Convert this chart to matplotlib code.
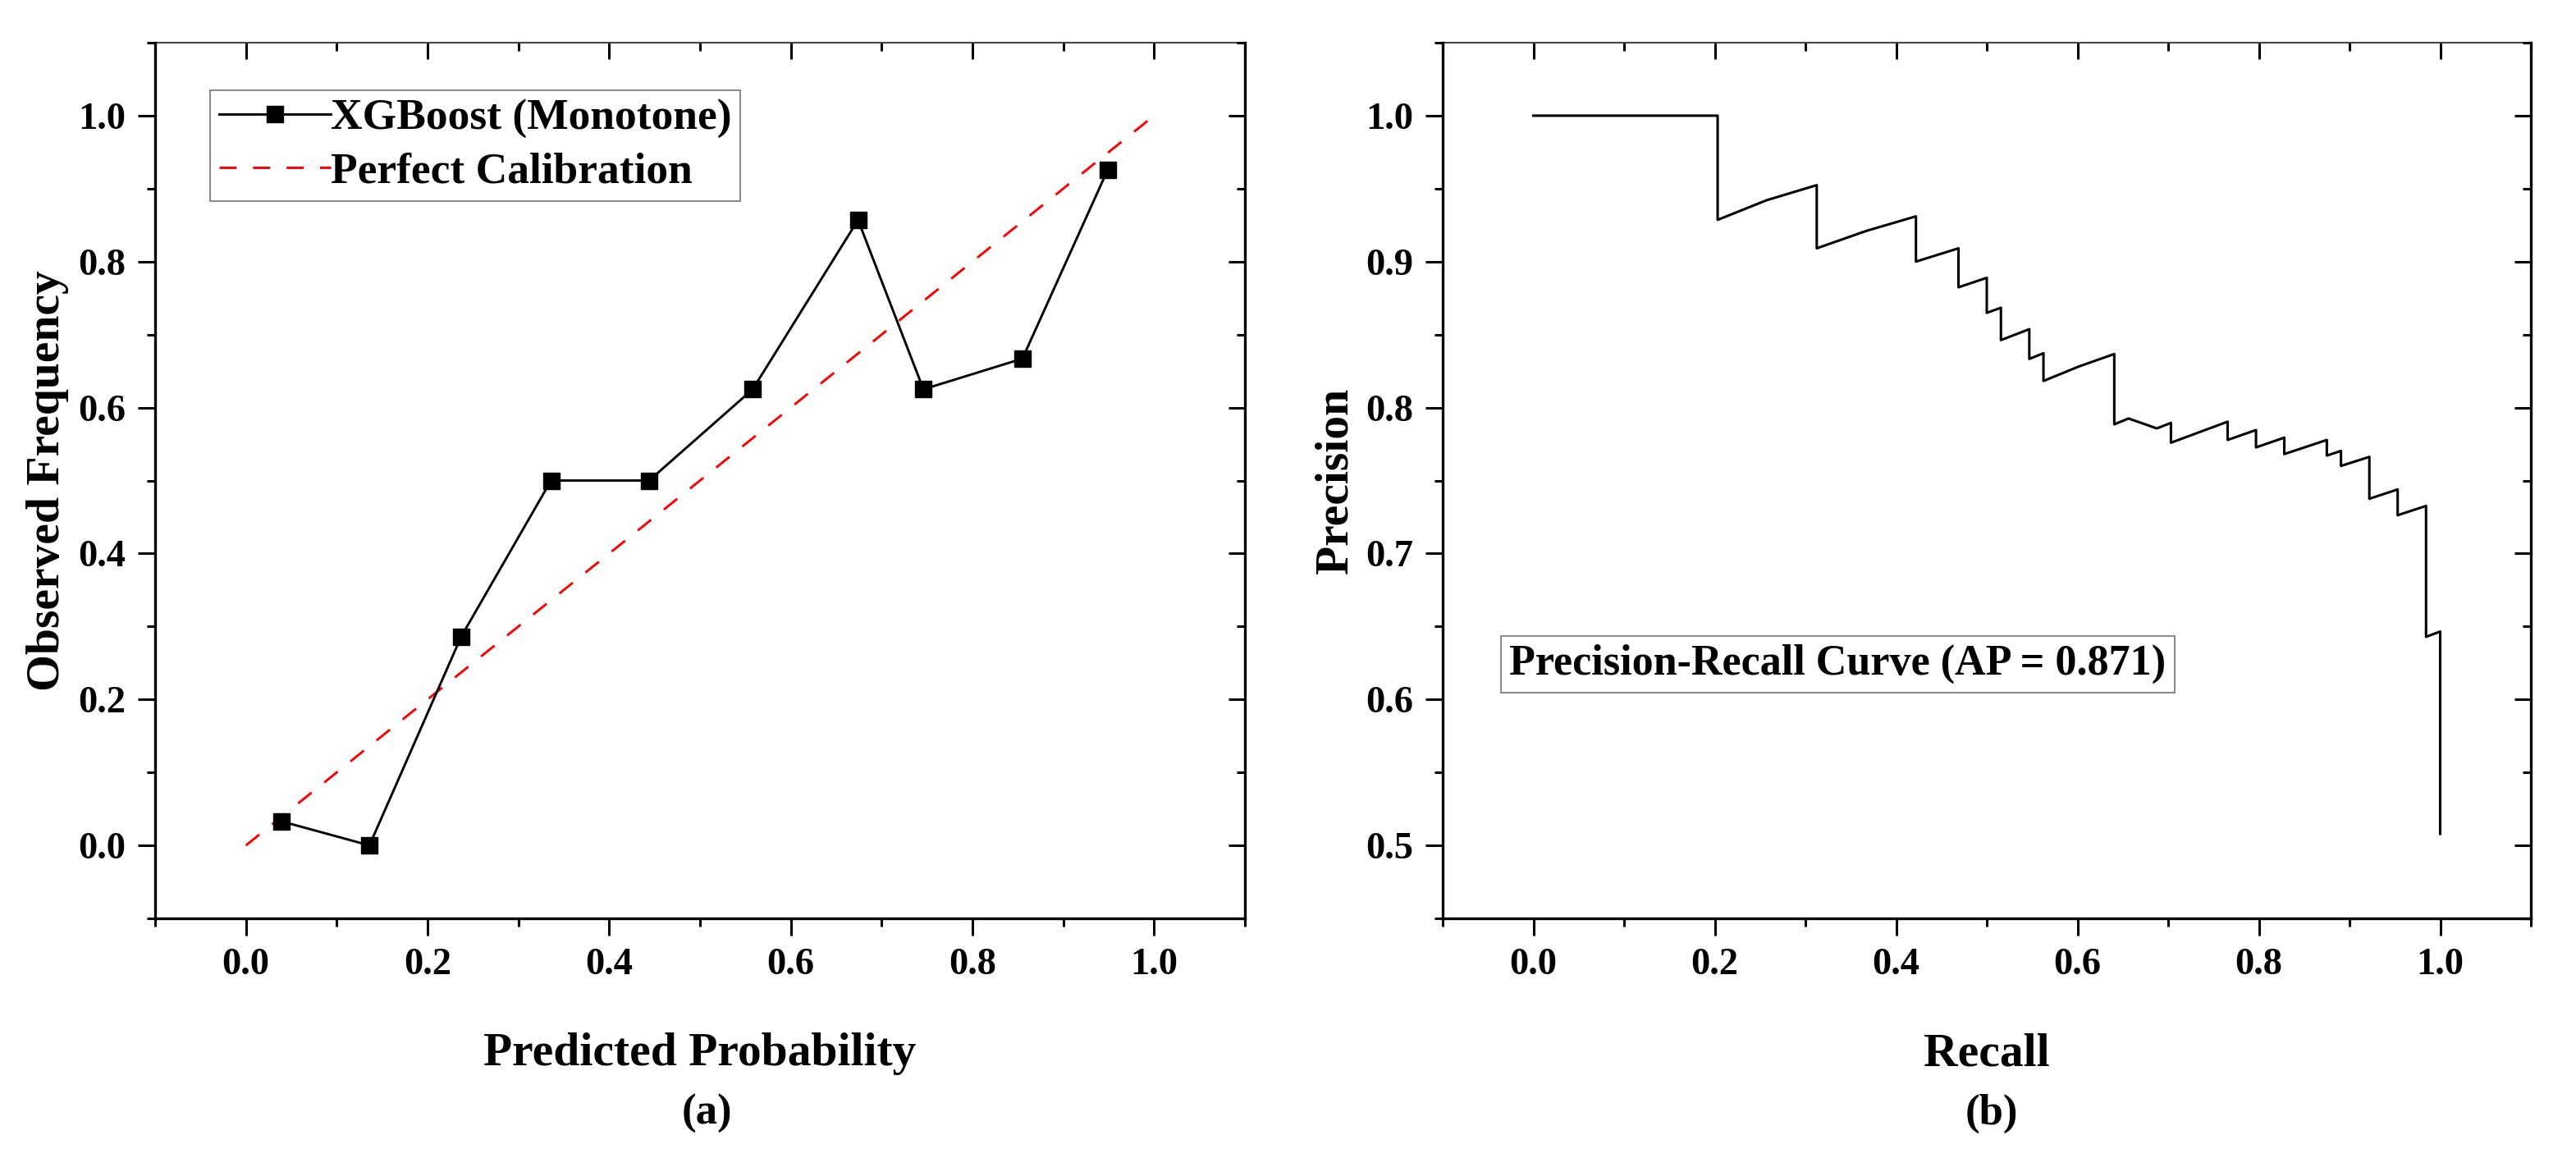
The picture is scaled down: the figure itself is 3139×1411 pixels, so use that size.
import matplotlib
matplotlib.use("Agg")
import matplotlib.pyplot as plt
from matplotlib.ticker import MultipleLocator, FormatStrFormatter

# ---- panel (a): calibration curve ----
pred_prob = [0.039, 0.136, 0.237, 0.336, 0.444, 0.558, 0.674, 0.746, 0.855, 0.949]
obs_freq = [0.033, 0.000, 0.286, 0.500, 0.500, 0.625, 0.857, 0.625, 0.667, 0.926]
perfect_x = [0.0, 1.0]
perfect_y = [0.0, 1.0]

# ---- panel (b): precision-recall curve, vertices ----
recall = [0.0, 0.2032, 0.2032, 0.257, 0.3125, 0.3125, 0.367, 0.4219, 0.4219,
          0.4688, 0.4688, 0.500, 0.500, 0.5156, 0.5156, 0.5469, 0.5469,
          0.5625, 0.5625, 0.601, 0.6406, 0.6406, 0.6563, 0.6875, 0.7031,
          0.7031, 0.7656, 0.7656, 0.7969, 0.7969, 0.8281, 0.8281, 0.875,
          0.875, 0.8906, 0.8906, 0.9219, 0.9219, 0.9531, 0.9531, 0.9844,
          0.9844, 1.0, 1.0]
precision = [1.0, 1.0, 0.9286, 0.942, 0.9524, 0.9091, 0.921, 0.931, 0.900,
             0.9091, 0.8824, 0.8889, 0.8649, 0.8684, 0.8462, 0.8537, 0.8333,
             0.8372, 0.8182, 0.828, 0.8367, 0.7885, 0.7925, 0.7857, 0.7895,
             0.7759, 0.7903, 0.7778, 0.7846, 0.7727, 0.7794, 0.7681, 0.7778,
             0.7671, 0.7703, 0.760, 0.7662, 0.7375, 0.7439, 0.7262, 0.7326,
             0.6429, 0.6465, 0.5079]
ap_value = 0.871

plt.rcParams["font.family"] = ["Liberation Serif", "DejaVu Serif"]
plt.rcParams["font.weight"] = "bold"
plt.rcParams["axes.labelweight"] = "bold"

W, H = 3139, 1411
fig = plt.figure(figsize=(W / 100, H / 100), dpi=100)

# axes boxes in pixels (left, bottom edge from top, width, height)
ax_a = fig.add_axes([189 / W, 1 - 1119 / H, 1328 / W, 1067 / H])
ax_b = fig.add_axes([1758 / W, 1 - 1119 / H, 1326 / W, 1067 / H])

TICK_FS = 33.5
LABEL_FS = 41.5


def style_axes(ax, xmaj, xmin, ymaj, ymin):
    """origin-like frame: ticks out on bottom/left, in on top/right"""
    for side in ["left", "bottom"]:
        ax.spines[side].set_linewidth(2.4)
        ax.spines[side].set_color("black")
    ax.spines["top"].set_visible(False)
    ax.spines["right"].set_visible(False)

    ax.xaxis.set_major_locator(MultipleLocator(xmaj))
    ax.xaxis.set_minor_locator(MultipleLocator(xmin))
    ax.yaxis.set_major_locator(MultipleLocator(ymaj))
    ax.yaxis.set_minor_locator(MultipleLocator(ymin))
    ax.xaxis.set_major_formatter(FormatStrFormatter("%.1f"))
    ax.yaxis.set_major_formatter(FormatStrFormatter("%.1f"))
    ax.tick_params(which="major", direction="out", length=15, width=2.2,
                   pad=10.8, labelsize=TICK_FS)
    ax.tick_params(which="minor", direction="out", length=7.5, width=2.2)

    top = ax.secondary_xaxis("top")
    top.xaxis.set_major_locator(MultipleLocator(xmaj))
    top.xaxis.set_minor_locator(MultipleLocator(xmin))
    top.tick_params(which="major", direction="in", length=14.5, width=2.2,
                    labeltop=False)
    top.tick_params(which="minor", direction="in", length=7, width=2.2)
    top.spines["top"].set_linewidth(1.5)
    top.spines["top"].set_color("#444444")

    right = ax.secondary_yaxis("right")
    right.yaxis.set_major_locator(MultipleLocator(ymaj))
    right.yaxis.set_minor_locator(MultipleLocator(ymin))
    right.tick_params(which="major", direction="in", length=14.5, width=2.2,
                      labelright=False)
    right.tick_params(which="minor", direction="in", length=7, width=2.2)
    right.spines["right"].set_linewidth(2.4)
    right.spines["right"].set_color("black")


# ---- (a) calibration ----
ax_a.plot(pred_prob, obs_freq, color="black", lw=2.1, marker="s", ms=14.5,
          mfc="black", mec="black", mew=1, label="XGBoost (Monotone)", zorder=3)
ax_a.plot(perfect_x, perfect_y, color="#ff0000", lw=2.1,
          linestyle=(0, (7.2, 6.8)), label="Perfect Calibration", zorder=2)
ax_a.set_xlim(-0.1, 1.1)
ax_a.set_ylim(-0.1, 1.1)
style_axes(ax_a, 0.2, 0.1, 0.2, 0.1)

leg = ax_a.legend(loc="upper left", bbox_to_anchor=(0.0505, 0.9456),
                  borderaxespad=0, fontsize=38.5, handlelength=2.55,
                  handletextpad=0.0, borderpad=0.2, labelspacing=0.3,
                  fancybox=False, framealpha=1, numpoints=1)
leg.get_frame().set_edgecolor("#888888")
leg.get_frame().set_linewidth(1.4)

ax_a.set_xlabel("Predicted Probability", fontsize=LABEL_FS, va="baseline")
ax_a.xaxis.set_label_coords(0.5, -0.1678)
ax_a.set_ylabel("Observed Frequency", fontsize=LABEL_FS, va="baseline")
ax_a.yaxis.set_label_coords(-0.088, 0.5)

# ---- (b) precision-recall ----
ax_b.plot(recall, precision, color="black", lw=2.2, zorder=3)
ax_b.set_xlim(-0.1, 1.1)
ax_b.set_ylim(0.45, 1.05)
style_axes(ax_b, 0.2, 0.1, 0.1, 0.05)

ax_b.text(-0.0267, 0.6169, f"Precision-Recall Curve (AP = {ap_value:.3f})",
          fontsize=37.5, ha="left", va="baseline",
          bbox=dict(boxstyle="square,pad=0.2", facecolor="white",
                    edgecolor="#888888", linewidth=1.4))

ax_b.set_xlabel("Recall", fontsize=LABEL_FS, va="baseline")
ax_b.xaxis.set_label_coords(0.5, -0.1678)
ax_b.set_ylabel("Precision", fontsize=LABEL_FS, va="baseline")
ax_b.yaxis.set_label_coords(-0.088, 0.5)

# panel tags
fig.text((189 + 664 + 8) / W, 1 - 1370 / H, "(a)", fontsize=38,
         ha="center", va="baseline")
fig.text((1758 + 663 + 6) / W, 1 - 1370 / H, "(b)", fontsize=38,
         ha="center", va="baseline")

fig.savefig("out.png", dpi=100)
